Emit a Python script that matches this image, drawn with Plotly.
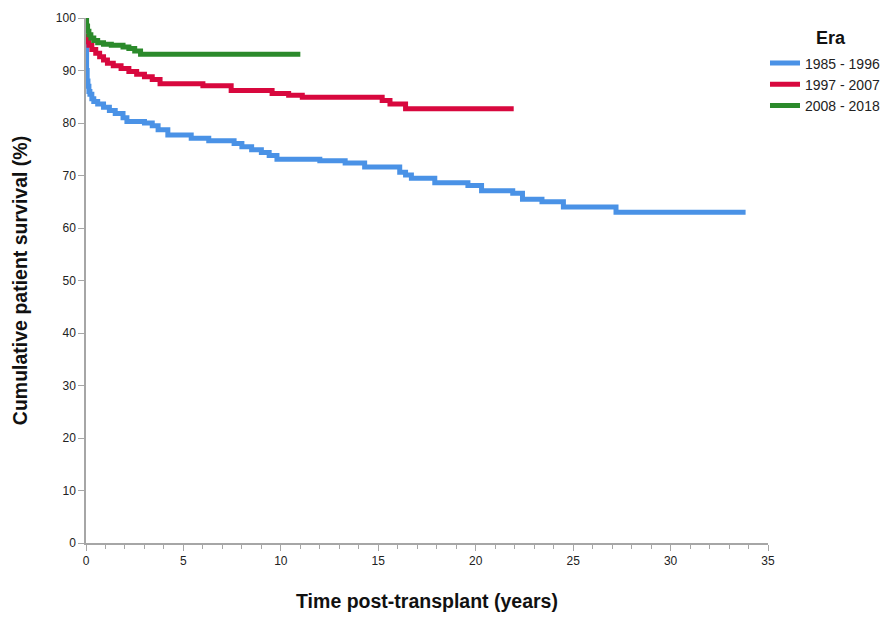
import plotly.graph_objects as go

# ---- data ----
era_names = ["1985 - 1996", "1997 - 2007", "2008 - 2018"]

t_1985 = [0, 0.03, 0.06, 0.1, 0.15, 0.2, 0.3, 0.4, 0.6, 0.9, 1.2, 1.5, 1.9, 2.1, 3.0, 3.4,
          3.7, 4.2, 5.4, 6.3, 7.6, 8.0, 8.5, 9.0, 9.4, 9.8, 12.0, 13.3, 14.3, 16.1, 16.4,
          16.7, 17.9, 19.6, 20.3, 21.9, 22.4, 23.4, 24.5, 27.2, 33.85]
s_1985 = [95, 90, 88, 87, 86, 85.5, 84.6, 84.1, 83.6, 83.0, 82.4, 81.8, 81.0, 80.3, 80.0, 79.5,
          78.7, 77.7, 77.1, 76.6, 76.1, 75.5, 74.9, 74.4, 73.8, 73.1, 72.8, 72.4, 71.6, 70.6, 70.1,
          69.5, 68.6, 68.1, 67.1, 66.6, 65.5, 65.0, 64.0, 63.0, 63.0]

t_1997 = [0, 0.05, 0.15, 0.3, 0.5, 0.7, 0.9, 1.1, 1.4, 1.8, 2.2, 2.6, 3.0, 3.4, 3.8, 6.0,
          7.45, 9.55, 10.4, 11.1, 15.2, 15.6, 16.4, 21.95]
s_1997 = [96.5, 95.5, 94.8, 94.0, 93.3, 92.6, 92.0, 91.4, 90.9, 90.4, 89.8, 89.3, 88.8, 88.3, 87.5, 87.1,
          86.2, 85.6, 85.3, 84.9, 84.3, 83.6, 82.7, 82.7]

t_2008 = [0, 0.03, 0.08, 0.15, 0.25, 0.4, 0.6, 0.9, 1.3, 1.9, 2.2, 2.5, 2.8, 11.0]
s_2008 = [100, 98.5, 97.5, 96.8, 96.2, 95.7, 95.3, 95.0, 94.8, 94.5, 94.2, 93.7, 93.1, 93.1]

x_ticks = [0, 5, 10, 15, 20, 25, 30, 35]
y_ticks = [0, 10, 20, 30, 40, 50, 60, 70, 80, 90, 100]

colors = ["#4A92E6", "#D8083E", "#2B8A2B"]

fig = go.Figure()
for name, t, s, c in zip(era_names, [t_1985, t_1997, t_2008], [s_1985, s_1997, s_2008], colors):
    fig.add_trace(go.Scatter(x=t, y=s, mode="lines", name=name,
                             line=dict(color=c, width=5, shape="hv")))

FONT = "Liberation Sans, Arial, sans-serif"
axis_col = "#A6A6A6"
tick_font = dict(family=FONT, size=12, color="#222222")

fig.update_layout(
    width=894, height=617, autosize=False,
    margin=dict(l=86, r=126, t=18, b=74, autoexpand=False),
    plot_bgcolor="white", paper_bgcolor="white",
    showlegend=True,
    legend=dict(
        x=0.9956, y=0.9438, xanchor="left", yanchor="top",
        font=dict(family=FONT, size=14, color="#222222"),
        itemwidth=30, tracegroupgap=0, bgcolor="rgba(0,0,0,0)",
    ),
    annotations=[dict(text="<b>Era</b>", xref="paper", yref="paper",
                      x=(831 - 86) / 682, y=(543 - 38) / 525, xanchor="center", yanchor="middle",
                      showarrow=False, font=dict(family=FONT, size=18, color="#111111"))],
    xaxis=dict(
        range=[0, 35], tickvals=x_ticks, showgrid=False, zeroline=False,
        showline=True, linecolor=axis_col, linewidth=1.5,
        ticks="outside", ticklen=6, tickcolor=axis_col, tickwidth=1.2,
        minor=dict(dtick=1, ticks="outside", ticklen=4, tickcolor=axis_col, tickwidth=1),
        tickfont=tick_font,
        title=dict(text="<b>Time post-transplant (years)</b>",
                   font=dict(family=FONT, size=19.5, color="#111111"), standoff=27),
        automargin=False,
    ),
    yaxis=dict(
        range=[0, 100], tickvals=y_ticks, showgrid=False, zeroline=False,
        showline=True, linecolor=axis_col, linewidth=1.5,
        ticks="outside", ticklen=6, tickcolor=axis_col, tickwidth=1.2,
        tickfont=tick_font,
        title=dict(text="<b>Cumulative patient survival (%)</b>",
                   font=dict(family=FONT, size=19.5, color="#111111"), standoff=23),
        automargin=False,
    ),
)

fig.write_html("out.html")
